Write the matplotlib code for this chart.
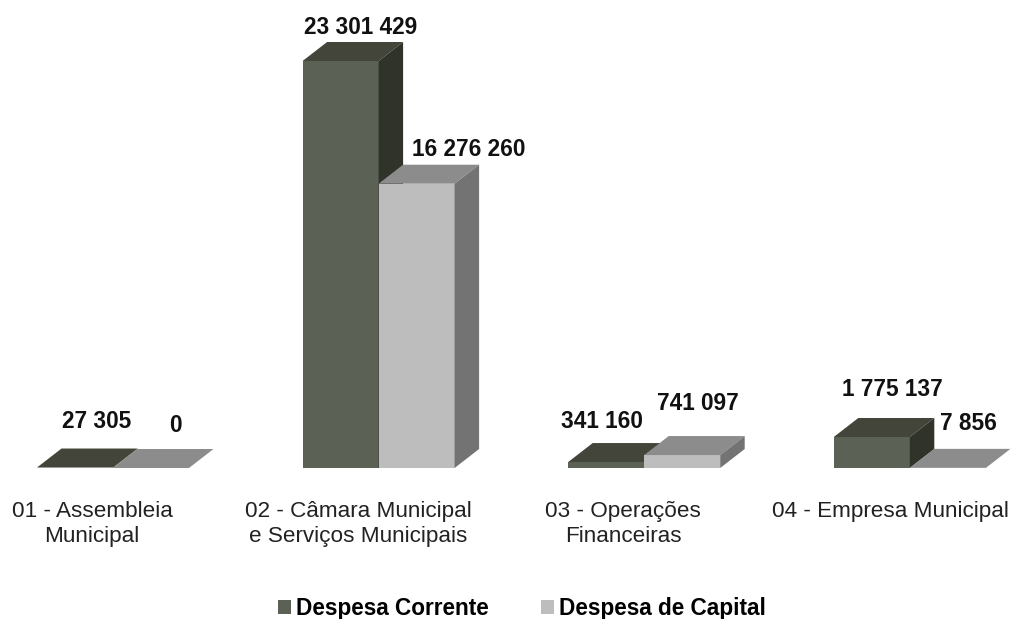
import matplotlib
matplotlib.use("Agg")
import matplotlib.pyplot as plt
from matplotlib.patches import Polygon, Patch

plt.rcParams['font.family'] = ['Liberation Sans', 'DejaVu Sans']

categories = ["01 - Assembleia\nMunicipal", "02 - Câmara Municipal\ne Serviços Municipais",
              "03 - Operações\nFinanceiras", "04 - Empresa Municipal"]
corrente = [27305, 23301429, 341160, 1775137]
capital = [0, 16276260, 741097, 7856]
corrente_labels = ["27 305", "23 301 429", "341 160", "1 775 137"]
capital_labels = ["0", "16 276 260", "741 097", "7 856"]

W, H = 1012, 619
# pixels per category / per unit of value
px_x = 265.6
px_y = 407 / 23301429
bar_w = 76 / px_x
dx = 24.5 / px_x
dy = 19 / px_y

# (front, top, side)
dark = ('#5c6156', '#43453a', '#2f332a')
light = ('#bdbdbd', '#8c8c8c', '#737373')


def px(x, y):
    return x / W, 1 - y / H


def bar3d(ax, left, val, cols):
    right = left + bar_w
    ax.add_patch(Polygon([(left, 0), (right, 0), (right, val), (left, val)], fc=cols[0], lw=0))
    ax.add_patch(Polygon([(left, val), (right, val), (right + dx, val + dy), (left + dx, val + dy)], fc=cols[1], lw=0))
    ax.add_patch(Polygon([(right, 0), (right + dx, dy), (right + dx, val + dy), (right, val)], fc=cols[2], lw=0))


fig = plt.figure(figsize=(W / 100, H / 100), dpi=100)
ax = fig.add_axes([0, 0, 1, 1])
ax.set_xlim(-113 / px_x, (W - 113) / px_x)
ax.set_ylim(-(H - 468) / px_y, 468 / px_y)
ax.axis('off')

for i in range(len(categories)):
    bar3d(ax, i - bar_w, corrente[i], dark)
    bar3d(ax, i, capital[i], light)

# value labels, placed by hand as in the original
corrente_pos = [(97, 421), (361, 27), (602, 421), (892, 389)]
capital_pos = [(175, 426), (469, 149), (698, 404), (968, 424)]
for txt, p in zip(corrente_labels + capital_labels, corrente_pos + capital_pos):
    x, y = px(*p)
    fig.text(x, y, txt, ha='center', va='center', fontsize=16.3, fontweight='bold', color='#111111')

cat_x = [92, 358, 623, 890]
for txt, cx in zip(categories, cat_x):
    x, y = px(cx, 501)
    fig.text(x, y, txt, ha='center', va='top', fontsize=16.2, color='#222222', linespacing=1.28)

handles = [Patch(fc=dark[0], lw=0), Patch(fc=light[0], lw=0)]
ax.legend(handles, ["Despesa Corrente", "Despesa de Capital"], loc='center', bbox_to_anchor=px(522, 608.5),
          bbox_transform=fig.transFigure, ncol=2, frameon=False,
          prop={'size': 16.3, 'weight': 'bold'}, handlelength=0.57, handleheight=0.57,
          handletextpad=0.22, columnspacing=2.28, borderpad=0, borderaxespad=0)

fig.savefig("out.png", dpi=100)
